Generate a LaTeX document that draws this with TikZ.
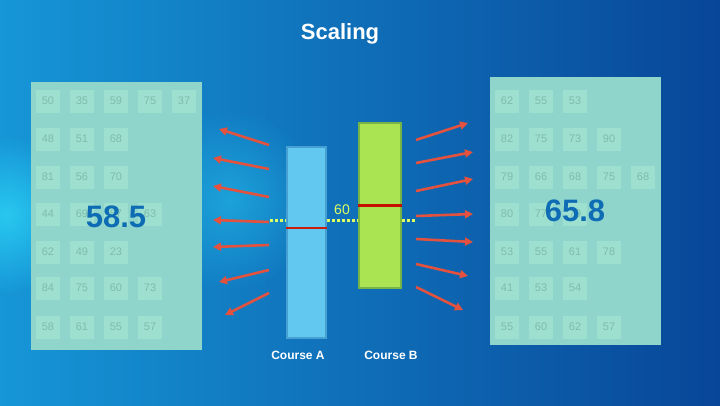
\documentclass[tikz,border=0pt]{standalone}
\usepackage{fontspec}
\setmainfont{Liberation Sans}
\usepackage{tikz}
\usetikzlibrary{arrows.meta,fadings,positioning,shapes}

\definecolor{bgleft}{RGB}{22,150,215}
\definecolor{bgright}{RGB}{8,70,152}
\definecolor{bgglow}{RGB}{40,200,240}
\definecolor{panelfill}{RGB}{143,213,204}
\definecolor{cellfill}{RGB}{158,224,208}
\definecolor{cellnum}{RGB}{124,188,170}
\definecolor{avgblue}{RGB}{14,108,180}
\definecolor{barablue}{RGB}{98,200,240}
\definecolor{baraedge}{RGB}{70,160,210}
\definecolor{barbgreen}{RGB}{170,228,82}
\definecolor{barbedge}{RGB}{118,180,70}
\definecolor{markred}{RGB}{196,16,0}
\definecolor{rayred}{RGB}{226,82,62}
\definecolor{dotyellow}{RGB}{220,255,100}

\tikzfading[name=glowfade, inner color=transparent!0, outer color=transparent!100]

\tikzset{
  panel/.style={fill=panelfill, minimum width=171pt, minimum height=268pt, inner sep=0pt},
  cell/.style={fill=cellfill, text=cellnum, minimum width=24pt, minimum height=23pt, inner sep=0pt, font=\fontsize{11}{11}\selectfont},
  avg/.style={text=avgblue, font=\fontsize{31}{31}\selectfont\bfseries, inner sep=0pt},
  ray/.style={draw=rayred, line width=2.6pt, -{Triangle[length=8pt,width=8pt,fill=rayred]}},
  dotline/.style={draw=dotyellow, line width=3pt, dash pattern=on 3pt off 2pt},
  avgline/.style={draw=markred, line width=3pt},
  caption/.style={text=white, font=\fontsize{12}{12}\selectfont\bfseries}
}

\begin{document}
\begin{tikzpicture}[x=1pt, y=1pt]
    \useasboundingbox (0,0) rectangle (720,-405);
    % background
    \shade[left color=bgleft, right color=bgright] (0,0) rectangle (720,-405);
    \fill[bgglow, path fading=glowfade] (5,-215) circle (80pt);
    \fill[bgglow, path fading=glowfade, opacity=0.5] (230,-200) circle (90pt);

    \node[text=white, font=\fontsize{22}{22}\selectfont\bfseries] (title) at (340,-34) {Scaling};

    % score panels
    \node[panel] (leftpanel) at (116.5,-216) {};
    \node[panel] (rightpanel) at (575.5,-211) {};

    \node[cell] (l11) at (48,-101) {50}; \node[cell] (l12) at (82,-101) {35}; \node[cell] (l13) at (116,-101) {59}; \node[cell] (l14) at (150,-101) {75}; \node[cell] (l15) at (184,-101) {37};
    \node[cell] (l21) at (48,-139) {48}; \node[cell] (l22) at (82,-139) {51}; \node[cell] (l23) at (116,-139) {68};
    \node[cell] (l31) at (48,-177) {81}; \node[cell] (l32) at (82,-177) {56}; \node[cell] (l33) at (116,-177) {70};
    \node[cell] (l41) at (48,-214) {44}; \node[cell] (l42) at (82,-214) {69}; \node[cell] (l43) at (116,-214) {57}; \node[cell] (l44) at (150,-214) {63};
    \node[cell] (l51) at (48,-252) {62}; \node[cell] (l52) at (82,-252) {49}; \node[cell] (l53) at (116,-252) {23};
    \node[cell] (l61) at (48,-288) {84}; \node[cell] (l62) at (82,-288) {75}; \node[cell] (l63) at (116,-288) {60}; \node[cell] (l64) at (150,-288) {73};
    \node[cell] (l71) at (48,-327) {58}; \node[cell] (l72) at (82,-327) {61}; \node[cell] (l73) at (116,-327) {55}; \node[cell] (l74) at (150,-327) {57};

    \node[cell] (r11) at (507,-101) {62}; \node[cell] (r12) at (541,-101) {55}; \node[cell] (r13) at (575,-101) {53};
    \node[cell] (r21) at (507,-139) {82}; \node[cell] (r22) at (541,-139) {75}; \node[cell] (r23) at (575,-139) {73}; \node[cell] (r24) at (609,-139) {90};
    \node[cell] (r31) at (507,-177) {79}; \node[cell] (r32) at (541,-177) {66}; \node[cell] (r33) at (575,-177) {68}; \node[cell] (r34) at (609,-177) {75}; \node[cell] (r35) at (643,-177) {68};
    \node[cell] (r41) at (507,-214) {80}; \node[cell] (r42) at (541,-214) {77}; \node[cell] (r43) at (575,-214) {79};
    \node[cell] (r51) at (507,-252) {53}; \node[cell] (r52) at (541,-252) {55}; \node[cell] (r53) at (575,-252) {61}; \node[cell] (r54) at (609,-252) {78};
    \node[cell] (r61) at (507,-288) {41}; \node[cell] (r62) at (541,-288) {53}; \node[cell] (r63) at (575,-288) {54};
    \node[cell] (r71) at (507,-327) {55}; \node[cell] (r72) at (541,-327) {60}; \node[cell] (r73) at (575,-327) {62}; \node[cell] (r74) at (609,-327) {57};

    \node[avg] (avgA) at (116,-216.5) {58.5};
    \node[avg] (avgB) at (575,-211) {65.8};

    % the two courses
    \node[draw=baraedge, line width=1.5pt, fill=barablue, minimum width=39pt, minimum height=191pt, inner sep=0pt] (courseA) at (306.5,-242.5) {};
    \node[draw=barbedge, line width=1.5pt, fill=barbgreen, minimum width=42pt, minimum height=165pt, inner sep=0pt] (courseB) at (380,-205.5) {};
    \draw[avgline, draw=markred!80!rayred, line width=2.6pt] (courseA.west |- 0,-228) -- (courseA.east |- 0,-228);
    \draw[avgline] (courseB.west |- 0,-205) -- (courseB.east |- 0,-205);

    \coordinate (dotL) at (270,-220);
    \coordinate (dotR) at (416,-220);
    \draw[dotline] (dotL) -- (courseA.west |- dotL);
    \draw[dotline] (courseA.east |- dotL) -- (courseB.west |- dotL);
    \draw[dotline] (courseB.east |- dotL) -- (dotR);
    \node[text=dotyellow, font=\fontsize{14}{14}\selectfont] (sixty) at (342,-210) {60};

    \node[caption] (labelA) at (298,-355) {Course A};
    \node[caption] (labelB) at (391,-355) {Course B};

    % spreading out
    \path[every edge/.style={ray}]
    (269,-145) edge (219,-129)
    (269,-169) edge (213,-158)
    (269,-197) edge (213,-186)
    (269,-222) edge (213,-220)
    (269,-245) edge (213,-247)
    (269,-270) edge (219,-282)
    (269,-293) edge (225,-315);
    \path[every edge/.style={ray}]
    (416,-140) edge (468,-123)
    (416,-163) edge (473,-152)
    (416,-191) edge (473,-179)
    (416,-216) edge (473,-214)
    (416,-239) edge (473,-242)
    (416,-264) edge (468,-276)
    (416,-287) edge (463,-310);
\end{tikzpicture}
\end{document}
